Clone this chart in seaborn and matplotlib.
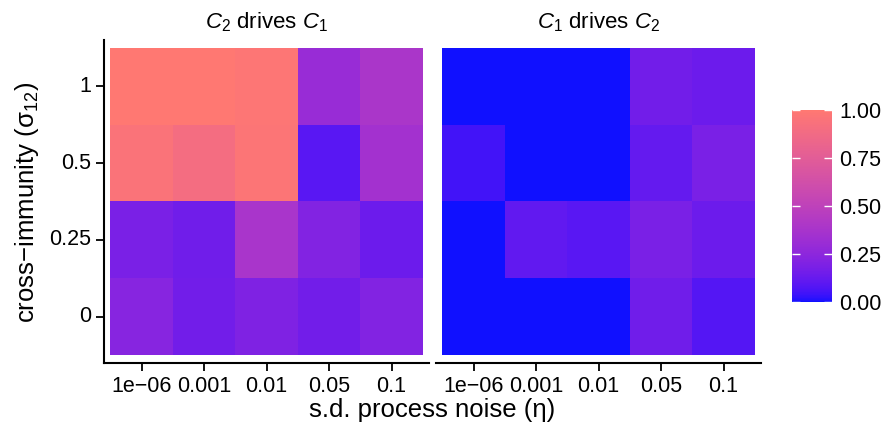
import numpy as np
import pandas as pd
import matplotlib
matplotlib.use("Agg")
import matplotlib.pyplot as plt
from matplotlib.colors import ListedColormap, to_rgb
import seaborn as sns

# data: rows = cross-immunity (top to bottom), columns = process noise
noise_labels = ["1e\u221206", "0.001", "0.01", "0.05", "0.1"]
immunity_labels = ["1", "0.5", "0.25", "0"]

c2_drives_c1 = [
    [1.00, 1.00, 0.98, 0.30, 0.39],
    [0.95, 0.90, 0.97, 0.09, 0.35],
    [0.18, 0.15, 0.38, 0.21, 0.14],
    [0.23, 0.16, 0.20, 0.16, 0.21],
]
c1_drives_c2 = [
    [0.00, 0.00, 0.00, 0.16, 0.14],
    [0.05, 0.00, 0.00, 0.12, 0.18],
    [0.00, 0.11, 0.09, 0.18, 0.14],
    [0.00, 0.00, 0.00, 0.15, 0.08],
]
panel_titles = [r"$C_2$ drives $C_1$", r"$C_1$ drives $C_2$"]


def _srgb_to_lab(c):
    c = np.array(c)
    lin = np.where(c <= 0.04045, c / 12.92, ((c + 0.055) / 1.055) ** 2.4)
    m = np.array([[0.4124, 0.3576, 0.1805],
                  [0.2126, 0.7152, 0.0722],
                  [0.0193, 0.1192, 0.9505]])
    xyz = m @ lin / np.array([0.95047, 1.0, 1.08883])
    f = np.where(xyz > 0.008856, np.cbrt(xyz), 7.787 * xyz + 16 / 116)
    return np.array([116 * f[1] - 16, 500 * (f[0] - f[1]), 200 * (f[1] - f[2])])


def _lab_to_srgb(lab):
    L, a, b = lab
    fy = (L + 16) / 116
    f = np.array([fy + a / 500, fy, fy - b / 200])
    xyz = np.where(f ** 3 > 0.008856, f ** 3, (f - 16 / 116) / 7.787)
    xyz = xyz * np.array([0.95047, 1.0, 1.08883])
    m = np.array([[3.2406, -1.5372, -0.4986],
                  [-0.9689, 1.8758, 0.0415],
                  [0.0557, -0.2040, 1.0570]])
    lin = m @ xyz
    c = np.where(lin <= 0.0031308, 12.92 * lin, 1.055 * np.clip(lin, 0, None) ** (1 / 2.4) - 0.055)
    return np.clip(c, 0, 1)


def lab_gradient(low, high, n=256):
    """ggplot-style two colour gradient, interpolated in Lab space."""
    l0, l1 = _srgb_to_lab(to_rgb(low)), _srgb_to_lab(to_rgb(high))
    return ListedColormap([_lab_to_srgb(l0 + (l1 - l0) * t) for t in np.linspace(0, 1, n)])


def main():
    plt.rcParams["font.family"] = ["Liberation Sans", "DejaVu Sans"]
    plt.rcParams["mathtext.fontset"] = "custom"
    plt.rcParams["mathtext.rm"] = "Liberation Sans"
    plt.rcParams["mathtext.it"] = "Liberation Sans:italic"

    cmap = lab_gradient("#1010FF", "#FF7872")
    fig = plt.figure(figsize=(8.88, 4.29), dpi=100)
    ax1 = fig.add_axes([104 / 888, 66 / 429, 325 / 888, 323 / 429])
    ax2 = fig.add_axes([436 / 888, 66 / 429, 325 / 888, 323 / 429])
    cax = fig.add_axes([792 / 888, 127 / 429, 40 / 888, 192 / 429])

    for i, (ax, vals, title) in enumerate(zip([ax1, ax2], [c2_drives_c1, c1_drives_c2], panel_titles)):
        df = pd.DataFrame(vals, index=immunity_labels, columns=noise_labels)
        sns.heatmap(df, ax=ax, cmap=cmap, vmin=0, vmax=1, cbar=(i == 0),
                    cbar_ax=cax if i == 0 else None)
        ax.set_xlim(-0.1, 5.1)
        ax.set_ylim(4.1, -0.1)
        ax.set_title(title, fontsize=16, pad=8)
        ax.set_xlabel("")
        ax.set_ylabel("")
        for s in ax.spines.values():
            s.set_visible(False)
        ax.spines["bottom"].set_visible(True)
        ax.spines["bottom"].set_linewidth(1.5)
        ax.tick_params(axis="x", length=6, width=1.3, labelsize=15.5, rotation=0, pad=3)
        if i == 0:
            ax.spines["left"].set_visible(True)
            ax.spines["left"].set_linewidth(1.5)
            ax.tick_params(axis="y", length=6, width=1.3, labelsize=15.5, rotation=0, pad=3)
        else:
            ax.tick_params(axis="y", left=False, labelleft=False)

    cax.set_yticks([0, 0.25, 0.5, 0.75, 1.0])
    cax.set_yticklabels(["0.00", "0.25", "0.50", "0.75", "1.00"])
    cax.yaxis.set_ticks_position("both")
    cax.tick_params(axis="y", direction="in", color="white", length=6, width=1,
                    labelsize=15.5, labelleft=False, labelright=True, pad=5)
    for s in cax.spines.values():
        s.set_visible(False)

    fig.text(432 / 888, 1 - 410 / 429, "s.d. process noise (\u03b7)", ha="center", va="center", fontsize=18.5)
    fig.text(27 / 888, 1 - 202 / 429, "cross\u2212immunity ($\\mathregular{\\sigma_{12}}$)",
             ha="center", va="center", rotation=90, fontsize=18.5)

    fig.savefig("out.png", dpi=100)
    plt.close(fig)


if __name__ == "__main__":
    main()
